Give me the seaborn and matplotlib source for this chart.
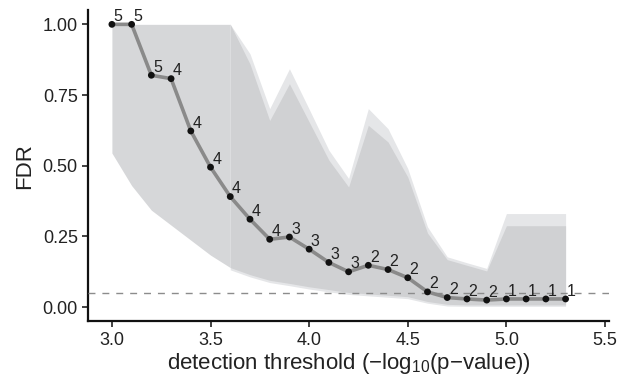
import numpy as np
import pandas as pd
import matplotlib
matplotlib.use("Agg")
import matplotlib.pyplot as plt
import seaborn as sns

# ---- data ----
thresholds = [3.0, 3.1, 3.2, 3.3, 3.4, 3.5, 3.6, 3.7, 3.8, 3.9, 4.0, 4.1,
              4.2, 4.3, 4.4, 4.5, 4.6, 4.7, 4.8, 4.9, 5.0, 5.1, 5.2, 5.3]
fdr = [1.00, 1.00, 0.82, 0.808, 0.623, 0.495, 0.391, 0.311, 0.240, 0.248, 0.205, 0.158,
       0.125, 0.148, 0.133, 0.104, 0.054, 0.034, 0.029, 0.025, 0.029, 0.029, 0.029, 0.029]
counts = [5, 5, 5, 4, 4, 4, 4, 4, 4, 3, 3, 3,
          3, 2, 2, 2, 2, 2, 2, 2, 1, 1, 1, 1]

left_x = [3.0, 3.1, 3.2, 3.3, 3.4, 3.5, 3.6]
left_lo = [0.545, 0.43, 0.343, 0.29, 0.237, 0.184, 0.14]
left_hi = [1.0, 1.0, 1.0, 1.0, 1.0, 1.0, 1.0]

band_x = [3.6, 3.7, 3.8, 3.9, 4.0, 4.1, 4.2, 4.3, 4.4, 4.5, 4.6, 4.7,
          4.8, 4.9, 5.0, 5.1, 5.2, 5.3]
outer_hi = [1.0, 0.896, 0.702, 0.843, 0.70, 0.555, 0.455, 0.702, 0.631, 0.49, 0.284, 0.178,
            0.157, 0.137, 0.331, 0.331, 0.331, 0.331]
inner_hi = [1.0, 0.86, 0.66, 0.79, 0.655, 0.52, 0.425, 0.643, 0.584, 0.46, 0.262, 0.168,
            0.148, 0.128, 0.288, 0.288, 0.288, 0.288]
inner_lo = [0.14, 0.115, 0.095, 0.084, 0.072, 0.062, 0.052, 0.047, 0.042, 0.037, 0.02, 0.01,
            0.008, 0.008, 0.008, 0.008, 0.008, 0.008]
outer_lo = [0.132, 0.107, 0.087, 0.076, 0.064, 0.054, 0.045, 0.040, 0.035, 0.030, 0.014, 0.004,
            0.003, 0.003, 0.003, 0.003, 0.003, 0.003]

fdr_target = 0.05
x_ticks = [3.0, 3.5, 4.0, 4.5, 5.0, 5.5]
y_ticks = [0.00, 0.25, 0.50, 0.75, 1.00]

df = pd.DataFrame({"threshold": thresholds, "FDR": fdr, "n": counts})

# ---- style ----
sns.set_style("ticks")
plt.rcParams["font.family"] = ["Liberation Sans", "DejaVu Sans"]
plt.rcParams["mathtext.fontset"] = "custom"
plt.rcParams["mathtext.rm"] = "Liberation Sans"
plt.rcParams["mathtext.it"] = "Liberation Sans"

fig = plt.figure(figsize=(6.17, 3.78), dpi=100)
ax = fig.add_axes([0.143, 0.150, 0.844, 0.823])

ax.fill_between(left_x, left_lo, left_hi, color="#d6d7d9", lw=0, zorder=1)
ax.fill_between(band_x, outer_lo, outer_hi, color="#e5e6e8", lw=0, zorder=1)
ax.fill_between(band_x, inner_lo, inner_hi, color="#d0d1d3", lw=0, zorder=2)

ax.axhline(fdr_target, color="#8c8c8c", lw=1.0, ls=(0, (5, 5)), zorder=3)

sns.lineplot(data=df, x="threshold", y="FDR", color="#8a8a8a", lw=2.6, ax=ax,
             zorder=4, legend=False)
sns.scatterplot(data=df, x="threshold", y="FDR", color="#111111", s=24,
                edgecolor="none", ax=ax, zorder=5, legend=False)

for xv, yv, n in zip(thresholds, fdr, counts):
    ax.annotate(str(n), (xv, yv), xytext=(1.2, 0.3), textcoords="offset points",
                ha="left", va="bottom", fontsize=11.5, color="#222222", zorder=6)

ax.set_xlim(2.88, 5.52)
ax.set_ylim(-0.05, 1.05)
ax.set_xticks(x_ticks)
ax.set_xticklabels([f"{t:.1f}" for t in x_ticks])
ax.set_yticks(y_ticks)
ax.set_yticklabels([f"{t:.2f}" for t in y_ticks])

sns.despine(ax=ax)
for s in ["left", "bottom"]:
    ax.spines[s].set_linewidth(1.6)
    ax.spines[s].set_color("#111111")
ax.tick_params(axis="both", length=4.5, width=1.3, color="#333333",
               labelsize=13, labelcolor="#222222", pad=3)

ax.set_xlabel("detection threshold (\u2212log$_{10}$(p\u2212value))", fontsize=16,
              color="#222222", labelpad=2)
ax.set_ylabel("FDR", fontsize=16, color="#222222", labelpad=5)

fig.savefig("out.png", dpi=100)
